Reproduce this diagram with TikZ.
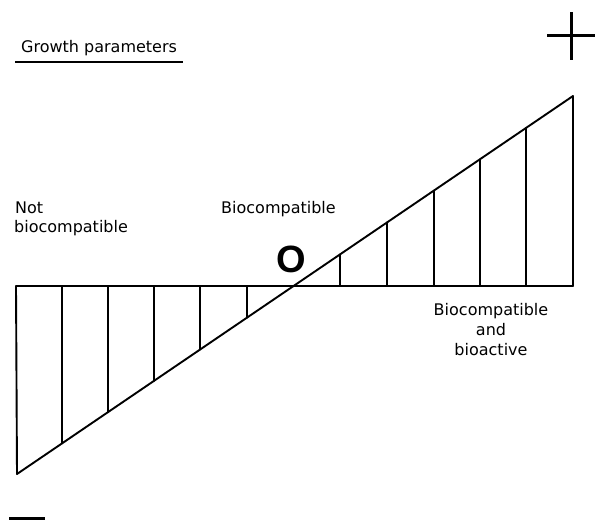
\documentclass[tikz,border=0pt]{standalone}
\usepackage{fontspec}
\setmainfont{DejaVu Sans}
\newfontfamily\boldO{Liberation Sans}
\begin{document}
\begin{tikzpicture}[x=1pt,y=-1pt,
  thin line/.style={line width=1.9pt, line cap=round},
  thick sign/.style={line width=3pt},
  lbl/.style={inner sep=0pt, font=\fontsize{16}{20}\selectfont}]
\useasboundingbox (0,0) rectangle (598,523);
% axis and diagonal corners
\coordinate (L) at (16,286);
\coordinate (R) at (573,286);
\coordinate (BL) at (17,474);
\coordinate (TR) at (573,96);
\draw[thin line] (L) -- (R);
\draw[thin line, line join=round] (L) -- (BL) -- (TR) -- (R);
% hatching verticals
\foreach \xx in {62,108,154,200,247,340,387,434,480,526}{
  \pgfmathsetmacro{\yy}{474-(\xx-17)*0.67986}
  \draw[thin line] (\xx,286) -- (\xx,\yy);
}
% plus and minus signs
\coordinate (P1) at (547,35); \coordinate (P2) at (595,35);
\coordinate (P3) at (571,12); \coordinate (P4) at (571,60);
\draw[thick sign] (P1) -- (P2);
\draw[thick sign] (P3) -- (P4);
\coordinate (M1) at (9,518); \coordinate (M2) at (45,518);
\draw[thick sign] (M1) -- (M2);
% labels
\node[lbl, anchor=base west] (gp) at (21,52) {Growth parameters};
\coordinate (U1) at (15,62); \coordinate (U2) at (183,62);
\draw[line width=1.7pt] (U1) -- (U2);
\node[lbl, anchor=base west] (not) at (15,213) {Not};
\node[lbl, anchor=base west] (nb) at (14,232.5) {biocompatible};
\node[lbl, anchor=base west] (bc) at (221,213.5) {Biocompatible};
\node[lbl, anchor=base] (bb1) at (491,315) {Biocompatible};
\node[lbl, anchor=base] (bb2) at (491,335) {and};
\node[lbl, anchor=base] (bb3) at (491,355) {bioactive};
\node[inner sep=0pt, anchor=base, font=\boldO\bfseries\fontsize{38}{40}\selectfont] (O) at (291,272) {O};
\end{tikzpicture}
\end{document}
